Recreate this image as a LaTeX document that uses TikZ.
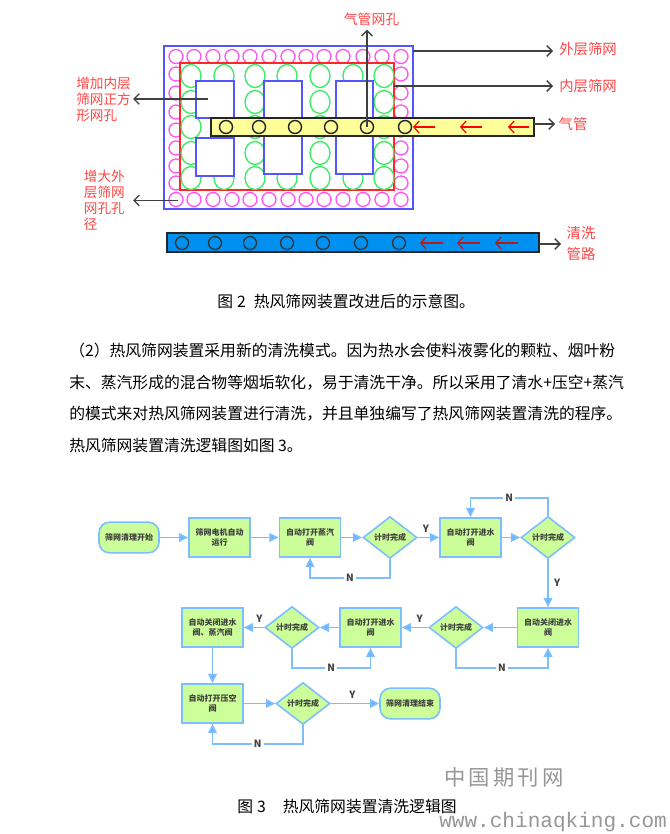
\documentclass[tikz,border=0pt]{standalone}
\usepackage{fontspec}
\setmainfont{Noto Sans CJK SC}
\newfontfamily\urlfont{Liberation Mono}
\usetikzlibrary{shapes.geometric,arrows.meta,positioning,calc}
\definecolor{labelcol}{RGB}{255,70,70}
\definecolor{pointcol}{RGB}{64,64,64}
\definecolor{outercol}{RGB}{85,85,255}
\definecolor{holecol}{RGB}{255,85,240}
\definecolor{greencol}{RGB}{60,235,100}
\definecolor{gascol}{RGB}{255,255,153}
\definecolor{washcol}{RGB}{0,144,240}
\definecolor{flowcol}{RGB}{125,190,255}
\definecolor{tipcol}{RGB}{100,178,255}
\definecolor{boxcol}{RGB}{204,255,153}
\definecolor{markcol}{RGB}{150,150,150}

\begin{document}
\begin{tikzpicture}[
    x=0.75pt, y=-0.75pt,
    wall/.style={rectangle, inner sep=0pt, outer sep=0pt, line width=1.1pt},
    pipe/.style={wall, draw=black!85, line width=1.1pt},
    pointer/.style={-{Straight Barb[length=4pt,width=8pt]}, draw=pointcol, line width=1pt},
    redflow/.style={-{Straight Barb[length=4pt,width=9pt]}, line width=0.9pt},
    callout/.style={font=\fontsize{10.4}{12}\selectfont, text=labelcol, align=left, inner sep=1.5pt},
    stepbox/.style={rectangle, draw=flowcol, fill=boxcol, line width=1.2pt, minimum width=45.75pt, minimum height=29.25pt, inner sep=0pt, align=center, font=\fontsize{6}{7.6}\selectfont\bfseries, text=black!75},
    ends/.style={stepbox, rounded corners=8pt, minimum width=45pt, minimum height=23pt},
    check/.style={diamond, draw=flowcol, fill=boxcol, line width=1.2pt, minimum width=40.5pt, minimum height=31.5pt, inner sep=0pt, aspect=1.3, font=\fontsize{6}{7.6}\selectfont\bfseries, text=black!75},
    flow/.style={draw=flowcol, line width=1.3pt, -{Triangle[length=7pt,width=6.5pt,fill=tipcol]}},
    yes/.style={font=\fontsize{7.5}{8}\selectfont\bfseries, text=black!75, inner sep=1pt},
    no/.style={yes, fill=white, inner xsep=1.5pt},
    para/.style={anchor=west, inner sep=0pt, font=\fontsize{11.85}{13}\selectfont},
]
\useasboundingbox (0,0) rectangle (670,834);

\node[wall, draw=outercol, fill=white, minimum width=186.75pt, minimum height=122.25pt] (outer) at (288.5,127.5) {};
\foreach \cx in {176,194,213,232,250,269,288,306,324,343,363,382,401}
  \foreach \cy in {56.5,199.5}
    \draw[holecol, line width=1pt] (\cx,\cy) circle (7);
\foreach \cy in {74,93,112,130,148,166,183}
  \foreach \cx in {176,401}
    \draw[holecol, line width=1pt] (\cx,\cy) circle (7);
\node[wall, draw=red!85, fill=white, minimum width=160.5pt, minimum height=95.25pt] (inner) at (287,126.5) {};
\foreach \cx in {191,224,255,287,320,353,384}
  \foreach \cy in {76,102,127,153,178}
    \draw[greencol, line width=1pt] (\cx,\cy) ellipse (10 and 11.5);
\draw[outercol, fill=white, line width=1pt] (196,81) rectangle (234,118);
\draw[outercol, fill=white, line width=1pt] (196,138) rectangle (234,176);
\draw[outercol, fill=white, line width=1pt] (264,81) rectangle (302,174);
\draw[outercol, fill=white, line width=1pt] (336,81) rectangle (373,174);

\node[pipe, fill=gascol, minimum width=242.25pt, minimum height=13.5pt] (gas) at (372.5,127) {};
\foreach \cx in {226,259,295,331,367,405}
  \draw[black!85, line width=1.1pt] (\cx,127) circle (6.5);
\foreach \cx/\tx in {435/413,482/460,529/508}
  \draw[redflow, red] (\cx,127) -- (\tx,127);

\node[pipe, fill=washcol, minimum width=279pt, minimum height=14.25pt] (wash) at (353,242.5) {};
\foreach \cx in {182,215,250,287,323,361,399}
  \draw[black!80, line width=1pt] (\cx,243) circle (6.5);
\foreach \cx/\tx in {443/420,480/457,518/495}
  \draw[redflow, red!70!black!90] (\cx,243) -- (\tx,243);

\node[callout, align=center, inner ysep=3pt] (gasHoleText) at (371.5,19) {气管网孔};
\node[callout, anchor=west, font=\fontsize{10.8}{12}\selectfont, inner xsep=4.5pt] (outerText) at (553,49) {外层筛网};
\node[callout, anchor=west, font=\fontsize{10.8}{12}\selectfont, inner xsep=4.5pt] (innerText) at (553,86) {内层筛网};
\node[callout, anchor=west, font=\fontsize{10.8}{12}\selectfont, inner xsep=2.5pt] (gasText) at (555,124) {气管};
\node[callout, anchor=west, font=\fontsize{10.8}{15.75}\selectfont, inner xsep=4pt] (washText) at (561,244) {清洗\\管路};
\node[callout, anchor=east, font=\fontsize{10.2}{12}\selectfont] (squareText) at (133,99) {增加内层\\筛网正方\\形网孔};
\node[callout, anchor=east, font=\fontsize{10.2}{12}\selectfont, inner xsep=6pt] (bigText) at (133,200.5) {增大外\\层筛网\\网孔孔\\径};

\coordinate (gasHole) at (367,127);
\coordinate (outerOut) at (outer.east |- 0,51);
\coordinate (innerOut) at (inner.east |- 0,86);
\coordinate (gasOut) at (gas.east |- 0,124);
\coordinate (washOut) at (wash.east |- 0,244);
\coordinate (squareIn) at (208,99);
\coordinate (bigIn) at (178,200.5);

\draw[pointer] (gasHole) -- (gasHole |- gasHoleText.south);
\draw[pointer] (outerOut) -- (outerOut -| outerText.west);
\draw[pointer] (innerOut) -- (innerOut -| innerText.west);
\draw[pointer] (gasOut) -- (gasOut -| gasText.west);
\draw[pointer] (washOut) -- (washOut -| washText.west);
\draw[pointer] (squareIn) -- (squareText.east);
\draw[pointer] (bigIn) -- (bigText.east);

\node[para] (capTwo) at (217,301) {图\hspace{3pt}2\hspace{6pt}热风筛网装置改进后的示意图。};
\node[para] (lineA) at (69,350) {（2）热风筛网装置采用新的清洗模式。因为热水会使料液雾化的颗粒、烟叶粉};
\node[para] (lineB) at (69,383) {末、蒸汽形成的混合物等烟垢软化，易于清洗干净。所以采用了清水+压空+蒸汽};
\node[para] (lineC) at (69,414) {的模式来对热风筛网装置进行清洗，并且单独编写了热风筛网装置清洗的程序。};
\node[para] (lineD) at (69,445) {热风筛网装置清洗逻辑图如图 3。};

\node[ends] (start) at (129,537.5) {筛网清理开始};
\node[stepbox] (motor) at (219.5,537.5) {筛网电机自动\\运行};
\node[stepbox] (steam) at (310,537.5) {自动打开蒸汽\\阀};
\node[check] (doneA) at (390,537.5) {计时完成};
\node[stepbox] (waterOn) at (470.5,537.5) {自动打开进水\\阀};
\node[check] (doneB) at (548,537.5) {计时完成};
\node[stepbox] (waterOff) at (548,627.5) {自动关闭进水\\阀};
\node[check] (doneC) at (456,627.5) {计时完成};
\node[stepbox] (waterOnB) at (370.5,627.5) {自动打开进水\\阀};
\node[check] (doneD) at (292,627.5) {计时完成};
\node[stepbox] (allOff) at (212.5,627.5) {自动关闭进水\\阀、蒸汽阀};
\node[stepbox] (air) at (212.5,703.5) {自动打开压空\\阀};
\node[check] (doneE) at (303,703.5) {计时完成};
\node[ends] (finish) at (410,703.5) {筛网清理结束};

\draw[flow] (start) -- (motor);
\draw[flow] (motor) -- (steam);
\draw[flow] (steam) -- (doneA);
\draw[flow] (doneA) -- node[yes, above=2pt, xshift=-2pt] {Y} (waterOn);
\draw[flow] (waterOn) -- (doneB);
\draw[flow] (doneB) -- node[yes, right=3pt] {Y} (waterOff);
\draw[flow] (waterOff) -- (doneC);
\draw[flow] (doneC) -- node[yes, above=2pt, xshift=3.5pt] {Y} (waterOnB);
\draw[flow] (waterOnB) -- (doneD);
\draw[flow] (doneD) -- node[yes, above=2pt, xshift=4pt] {Y} (allOff);
\draw[flow] (allOff) -- (air);
\draw[flow] (air) -- (doneE);
\draw[flow] (doneE) -- node[yes, above=2pt, xshift=-2pt] {Y} (finish);

\draw[flow] (doneA.south) -- ++(0,18.5) -| node[no, pos=0.25] {N} (steam.south);
\draw[flow] (doneB.north) -- ++(0,-18) -| node[no, pos=0.25] {N} (waterOn.north);
\draw[flow] (doneC.south) -- ++(0,18.5) -| node[no, pos=0.25] {N} (waterOff.south);
\draw[flow] (doneD.south) -- ++(0,18.5) -| node[no, pos=0.25] {N} (waterOnB.south);
\draw[flow] (doneE.south) -- ++(0,18.5) -| node[no, pos=0.25] {N} (air.south);

\node[para] (capThree) at (237,806) {图\hspace{3pt}3\hspace{12.75pt}热风筛网装置清洗逻辑图};
\node[anchor=center, inner sep=0pt, text=markcol, font=\fontsize{16}{20}\selectfont] (markCn) at (504,777) {中\hspace{2.5pt}国\hspace{2.5pt}期\hspace{2.5pt}刊\hspace{2.5pt}网};
\node[anchor=west, inner sep=0pt, text=markcol, font=\urlfont\fontsize{15.8}{18}\selectfont] (markUrl) at (439,822) {www.chinaqking.com};
\end{tikzpicture}
\end{document}
